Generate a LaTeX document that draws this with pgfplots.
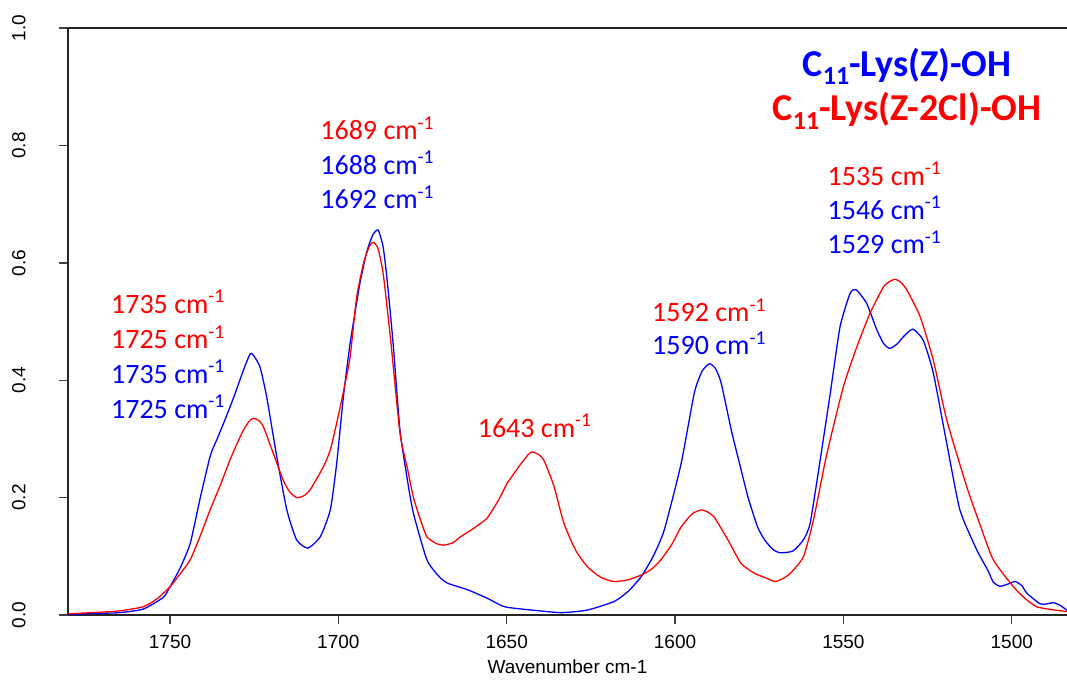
\documentclass[border=0pt]{standalone}
\usepackage{pgfplots}
\pgfplotsset{compat=1.18}
\usepackage{fontspec}
\setmainfont{Carlito}
\newfontfamily\arialf{Liberation Sans}
\definecolor{pblue}{RGB}{0,0,255}
\definecolor{pred}{RGB}{255,0,0}
\newcommand{\subl}[1]{\raisebox{-0.45ex}{\fontsize{13}{14}\selectfont #1}}
\begin{document}
\begin{tikzpicture}
\begin{axis}[
  scale only axis,
  width=499.5pt, height=293.5pt,
  x dir=reverse,
  xmin=1483.6, xmax=1780.3, ymin=0, ymax=1,
  axis x line*=box, axis y line*=left,
  axis line style={black!85, line width=0.7pt},
  xtick={1500,1550,1600,1650,1700,1750},
  ytick={0,0.2,0.4,0.6,0.8,1.0},
  xtick pos=left, ytick pos=left,
  tick align=outside,
  major tick length=4.5pt,
  tick style={black!75, line width=0.7pt},
  /pgf/number format/assume math mode=true,
  tick label style={font=\arialf\fontsize{9.5}{11}\selectfont},
  xticklabel style={/pgf/number format/1000 sep={}},
  xticklabel shift=2pt,
  yticklabel shift=16.5pt,
  yticklabel style={rotate=90, anchor=south, inner sep=0pt,
     /pgf/number format/fixed, /pgf/number format/fixed zerofill, /pgf/number format/precision=1},
  xlabel={\arialf\fontsize{9.5}{11}\selectfont Wavenumber cm-1},
  xlabel style={yshift=-1.2pt, inner sep=1pt},
  clip=false,
]
\addplot[pblue, line width=0.65pt, smooth, tension=0.35] coordinates {
(1780.3,0.001)(1770,0.003)(1765,0.004)(1758,0.010)(1752,0.030)(1750,0.048)(1747,0.080)(1744,0.122)
(1741,0.200)(1738,0.272)(1736,0.300)(1733.5,0.335)(1731,0.372)(1728.2,0.417)(1726.2,0.445)(1725.3,0.443)
(1723.3,0.423)(1721.3,0.372)(1718.3,0.270)(1715.3,0.179)(1712.4,0.128)(1709.1,0.114)(1705.4,0.133)
(1702.4,0.179)(1700.5,0.258)(1698.5,0.372)(1696.5,0.463)(1693.6,0.565)(1691.5,0.620)(1689.8,0.647)
(1688.2,0.656)(1686.7,0.627)(1685.5,0.570)(1683.7,0.460)(1681.7,0.315)(1679.5,0.230)(1677.7,0.173)
(1673.7,0.094)(1670,0.065)(1667.5,0.054)(1661.6,0.043)(1655.6,0.028)(1650.6,0.014)(1642.7,0.0085)
(1633.8,0.004)(1626,0.0085)(1618.1,0.023)(1614,0.040)(1610.1,0.065)(1606.5,0.100)(1603.2,0.145)
(1598.2,0.258)(1594.3,0.378)(1592,0.415)(1589.8,0.428)(1588,0.420)(1586.3,0.395)(1583.3,0.315)
(1580.5,0.250)(1578.3,0.200)(1575.5,0.150)(1573.4,0.128)(1571,0.112)(1568.8,0.106)(1565,0.109)
(1561.9,0.128)(1559.9,0.156)(1556.9,0.264)(1553.9,0.378)(1551,0.491)(1548,0.548)(1546.2,0.554)
(1543.1,0.531)(1540.1,0.486)(1538,0.462)(1536.2,0.454)(1534,0.462)(1532.2,0.474)(1529.4,0.487)
(1526.3,0.468)(1523.3,0.412)(1519.3,0.292)(1515.4,0.179)(1510.4,0.111)(1507,0.075)(1505.5,0.056)
(1503.5,0.049)(1501,0.053)(1499,0.057)(1497,0.050)(1495.5,0.037)(1491.6,0.019)(1489.5,0.019)
(1487.6,0.021)(1485.5,0.016)(1483.6,0.008)
};
\addplot[pred, line width=0.65pt, smooth, tension=0.35] coordinates {
(1780.3,0.002)(1770,0.005)(1765,0.007)(1758,0.014)(1754,0.027)(1750,0.048)(1747,0.070)(1744,0.094)
(1741,0.135)(1738.1,0.179)(1735,0.222)(1732.2,0.264)(1730,0.293)(1728.2,0.315)(1726.5,0.330)
(1725.3,0.335)(1723.8,0.332)(1722.3,0.321)(1719.3,0.275)(1716.4,0.230)(1714.5,0.210)(1712.4,0.200)
(1710.3,0.203)(1708.4,0.213)(1704.4,0.253)(1702.4,0.281)(1700.5,0.327)(1698.5,0.380)(1696.5,0.440)
(1694.6,0.540)(1692.5,0.600)(1690.8,0.628)(1689.7,0.635)(1688.3,0.626)(1686.7,0.582)(1684.5,0.470)
(1681.7,0.310)(1679.5,0.250)(1677.7,0.200)(1675.5,0.160)(1673.7,0.133)(1671,0.122)(1668.8,0.119)
(1666,0.123)(1663.8,0.133)(1660.5,0.145)(1657.8,0.156)(1655.8,0.165)(1652.5,0.195)(1649.9,0.224)
(1646.5,0.252)(1644.9,0.264)(1643.5,0.274)(1642.4,0.278)(1640.7,0.274)(1639,0.264)(1636,0.220)
(1633,0.156)(1629.5,0.110)(1626,0.082)(1622,0.064)(1618.1,0.057)(1614,0.060)(1610.1,0.068)
(1607,0.078)(1604.2,0.094)(1601,0.120)(1598.2,0.150)(1595,0.172)(1592.3,0.179)(1590.5,0.176)
(1588.4,0.167)(1584.5,0.130)(1580.4,0.088)(1576.4,0.071)(1573,0.063)(1570.3,0.057)(1568,0.062)
(1565.8,0.071)(1561.9,0.099)(1558.9,0.162)(1554.9,0.275)(1550,0.389)(1546,0.457)(1542.1,0.514)
(1538.1,0.559)(1536.3,0.568)(1534.6,0.572)(1533,0.567)(1531.2,0.554)(1527.2,0.508)(1523.3,0.434)
(1519.3,0.332)(1513.4,0.219)(1509.5,0.155)(1505.5,0.094)(1499.5,0.048)(1496,0.028)(1492.6,0.014)
(1488,0.009)(1483.6,0.006)
};
\tikzset{lab/.style={anchor=base west, inner sep=0pt, font=\fontsize{14}{16}\selectfont}}
\node[lab, text=pred]  at (axis cs:1767.6,0.514) {1735 cm\textsuperscript{-1}};
\node[lab, text=pred]  at (axis cs:1767.6,0.454) {1725 cm\textsuperscript{-1}};
\node[lab, text=pblue] at (axis cs:1767.6,0.395) {1735 cm\textsuperscript{-1}};
\node[lab, text=pblue] at (axis cs:1767.6,0.335) {1725 cm\textsuperscript{-1}};
\node[lab, text=pred]  at (axis cs:1705.45,0.810) {1689 cm\textsuperscript{-1}};
\node[lab, text=pblue] at (axis cs:1705.45,0.751) {1688 cm\textsuperscript{-1}};
\node[lab, text=pblue] at (axis cs:1705.45,0.692) {1692 cm\textsuperscript{-1}};
\node[lab, text=pred]  at (axis cs:1658.7,0.303) {1643 cm\textsuperscript{-1}};
\node[lab, text=pred]  at (axis cs:1606.9,0.4997) {1592 cm\textsuperscript{-1}};
\node[lab, text=pblue] at (axis cs:1606.9,0.443) {1590 cm\textsuperscript{-1}};
\node[lab, text=pred]  at (axis cs:1554.8,0.7325) {1535 cm\textsuperscript{-1}};
\node[lab, text=pblue] at (axis cs:1554.8,0.674) {1546 cm\textsuperscript{-1}};
\node[lab, text=pblue] at (axis cs:1554.8,0.615) {1529 cm\textsuperscript{-1}};
\node[anchor=base, inner sep=0pt, text=pblue, font=\bfseries\fontsize{19}{22}\selectfont] at (axis cs:1531.1,0.918) {C\subl{11}-Lys(Z)-OH};
\node[anchor=base, inner sep=0pt, text=pred, font=\bfseries\fontsize{19}{22}\selectfont] at (axis cs:1531.1,0.842) {C\subl{11}-Lys(Z-2Cl)-OH};
\end{axis}
\pgfresetboundingbox
\path[use as bounding box] ([shift={(-34pt,-33.5pt)}]current axis.south west) rectangle ([shift={(0pt,14pt)}]current axis.north east);
\end{tikzpicture}
\end{document}
